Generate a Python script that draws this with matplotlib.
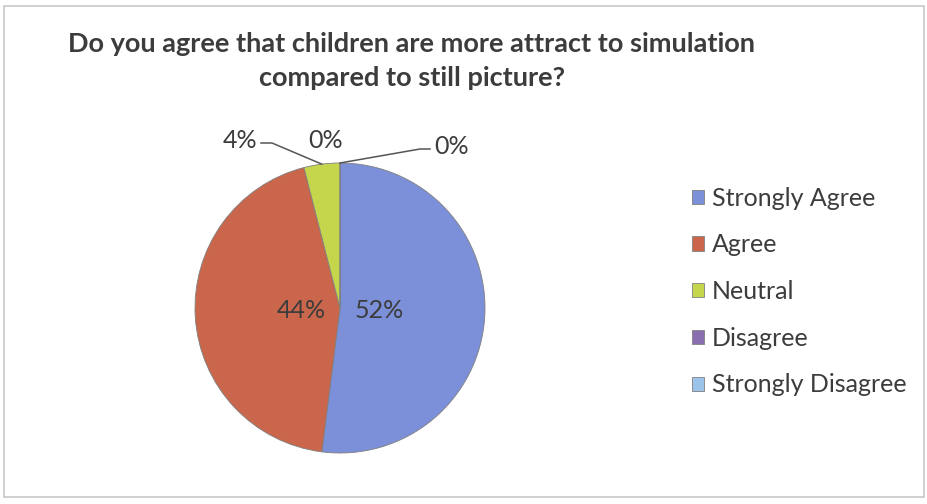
import matplotlib.pyplot as plt
import numpy as np
from matplotlib.patches import Rectangle

# survey answers (number of respondents)
categories = ['Strongly Agree', 'Agree', 'Neutral', 'Disagree', 'Strongly Disagree']
counts = [13, 11, 1, 0, 0]
colors = ['#7b90d8', '#c9664c', '#c5d64c', '#8a6fb0', '#9cc4ea']
title = 'Do you agree that children are more attract to simulation\ncompared to still picture?'

W, H = 927, 504
plt.rcParams['font.family'] = ['Lato', 'DejaVu Sans']
text_col = '#3c3c3c'

fig = plt.figure(figsize=(W / 100, H / 100), dpi=100)
fig.patch.set_facecolor('white')
# axes in pixel units, y pointing up
ax = fig.add_axes([0, 0, 1, 1])

# chart frame
ax.add_patch(Rectangle((4, H - 497), 920, 491, fill=False,
                       edgecolor='#c8c8c8', linewidth=1.2))

total = sum(counts)
pcts = [100.0 * c / total for c in counts]
cx, cy, r = 340, H - 308, 145


def big_pct(p):
    return '%d%%' % round(p) if p > 10 else ''


wedges, texts, autotexts = ax.pie(counts, colors=colors, startangle=90,
                                  counterclock=False, center=(cx, cy), radius=r,
                                  autopct=big_pct, pctdistance=0.27,
                                  wedgeprops=dict(edgecolor='#808080', linewidth=0.6),
                                  textprops=dict(fontsize=18, color=text_col))
ax.set_xlim(0, W)
ax.set_ylim(0, H)
ax.set_aspect('equal')
ax.axis('off')

# small slices get outside labels with leader lines
angles = 90 - 360 * np.cumsum([0] + counts) / total
mid = (angles[:-1] + angles[1:]) / 2
lab_pos = [None, None, (240, 140), (326, 140), (452, 146)]
elbow = [None, None, (272, 143), None, (420, 149)]
for i in range(2, len(counts)):
    lx, ly = lab_pos[i]
    ax.text(lx, H - ly, '%d%%' % round(pcts[i]), fontsize=18, color=text_col,
            ha='center', va='center')
    if elbow[i] is not None:
        ex = cx + r * np.cos(np.radians(mid[i]))
        ey = cy + r * np.sin(np.radians(mid[i]))
        sx = lx + 21 if i == 2 else lx - 22
        ax.plot([sx, elbow[i][0], ex], [H - elbow[i][1], H - elbow[i][1], ey],
                color='#555555', linewidth=1.1)

fig.text(412 / W, 1 - 32 / H, title, ha='center', va='top', fontsize=19.5,
         fontweight='bold', color=text_col, linespacing=1.5)

leg = fig.legend(wedges, categories, loc='upper left',
                 bbox_to_anchor=(679 / W, 1 - 174 / H), frameon=False,
                 fontsize=18, handlelength=0.5, handleheight=0.5,
                 handletextpad=0.3, labelspacing=0.95, borderpad=0)
for t in leg.get_texts():
    t.set_color(text_col)

fig.savefig('out.png', dpi=100)
